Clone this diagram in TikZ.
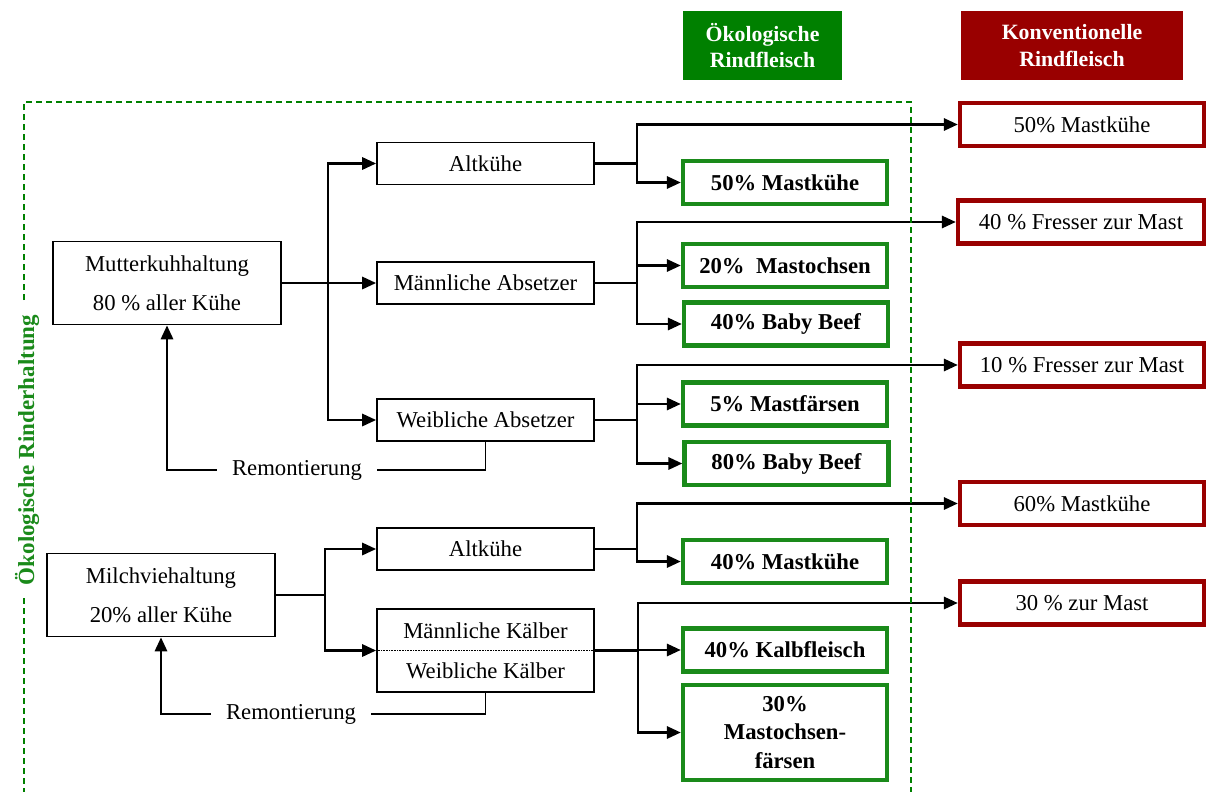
\documentclass[tikz,border=0pt]{standalone}
\usepackage{fontspec}
\setmainfont{Liberation Serif}
\usetikzlibrary{arrows.meta}
\definecolor{ecogreen}{HTML}{008000}
\definecolor{ecoframe}{HTML}{1A8A1A}
\definecolor{convred}{HTML}{990000}

\begin{document}
\begin{tikzpicture}[x=1pt,y=-1pt,
  every node/.style={font=\fontsize{22.7}{27}\selectfont, inner sep=0pt},
  stagebox/.style={draw=black, line width=1.6pt, minimum width=217pt, minimum height=42pt, align=center},
  herdbox/.style={draw=black, line width=1.6pt, minimum width=228pt, minimum height=83pt, align=center,
    font=\fontsize{22.7}{39}\selectfont},
  ecobox/.style={draw=ecoframe, line width=4.2pt, minimum width=204pt, minimum height=43pt, align=center,
    font=\fontsize{22.7}{28.5}\selectfont\bfseries},
  convbox/.style={draw=convred, line width=4.2pt, minimum width=244pt, minimum height=43pt, align=center},
  headbox/.style={minimum height=69pt, align=center, text=white,
    font=\fontsize{21.8}{26.5}\selectfont\bfseries},
  link/.style={line width=2.9pt},
  flow/.style={line width=2.9pt, -{Triangle[length=14pt,width=12pt]}},
  feed/.style={line width=1.4pt},
  remlabel/.style={inner xsep=15pt, fill=white},
  zone/.style={draw=ecogreen, line width=2.2pt, dash pattern=on 6pt off 4pt}
]
\useasboundingbox (0,0) rectangle (1207,792);

% column headers
\node[headbox, fill=ecogreen, minimum width=159pt] (hEco) at (762.5,45.5) {Ökologische\\Rindfleisch};
\node[headbox, fill=convred, minimum width=222pt] (hConv) at (1072,45.5) {Konventionelle\\Rindfleisch};

% herds
\node[herdbox] (mk) at (167,283) {Mutterkuhhaltung\\80 \% aller Kühe};
\node[herdbox] (mv) at (161,595) {Milchviehaltung\\20\% aller Kühe};

% animal groups
\node[stagebox] (alt1) at (485.5,163.5) {Altkühe};
\node[stagebox] (mabs) at (485.5,283) {Männliche Absetzer};
\node[stagebox] (wabs) at (485.5,420) {Weibliche Absetzer};
\node[stagebox] (alt2) at (485.5,549) {Altkühe};
\node[stagebox, minimum height=83pt] (kalb) at (485.5,650.5) {};
\node (kalbM) at (485.5,631) {Männliche Kälber};
\node (kalbW) at (485.5,671) {Weibliche Kälber};
\draw[line width=1.8pt, dash pattern=on 1pt off 0.6pt] (kalb.west) -- (kalb.east);

% organic beef
\node[ecobox] (g1) at (785,182.5) {50\% Mastkühe};
\node[ecobox] (g2) at (785,265.5) {20\%\ \ Mastochsen};
\node[ecobox] (g3) at (786,324) {40\% Baby Beef};
\node[ecobox] (g4) at (785,404) {5\% Mastfärsen};
\node[ecobox] (g5) at (786.5,463.5) {80\% Baby Beef};
\node[ecobox] (g6) at (785,561.5) {40\% Mastkühe};
\node[ecobox] (g7) at (785,650) {40\% Kalbfleisch};
\node[ecobox, minimum height=95pt] (g8) at (785,732.5) {30\%\\Mastochsen-\\färsen};

% conventional beef
\node[convbox] (r1) at (1082,124.5) {50\% Mastkühe};
\node[convbox, minimum width=246pt] (r2) at (1081,222) {40 \% Fresser zur Mast};
\node[convbox] (r3) at (1082,365) {10 \% Fresser zur Mast};
\node[convbox] (r4) at (1082,503.5) {60\% Mastkühe};
\node[convbox] (r5) at (1082,603) {30 \% zur Mast};

% branches from the herds
\draw[link] (mk.east) -- (328,283) coordinate (t1);
\draw[flow] (t1) |- (alt1.west);
\draw[flow] (t1) -- (mabs.west);
\draw[flow] (t1) |- (wabs.west);

\draw[link] (mv.east) -- (325,595) coordinate (t5);
\draw[flow] (t5) |- (alt2.west);
\draw[flow] (t5) |- (kalb.west);

% branches to the beef categories
\draw[link] (alt1.east) -- (637,163.5) coordinate (t2);
\draw[flow] (t2) |- (r1.west);
\draw[flow] (t2) |- (g1.west);

\draw[link] (mabs.east) -- (637,283) coordinate (t3);
\draw[flow] (t3) |- (r2.west);
\draw[flow] (t3) |- (g2.west);
\draw[flow] (t3) |- (g3.west);

\draw[link] (wabs.east) -- (637,420) coordinate (t4);
\draw[flow] (t4) |- (r3.west);
\draw[flow] (t4) |- (g4.west);
\draw[flow] (t4) |- (g5.west);

\draw[link] (alt2.east) -- (637,549) coordinate (t6);
\draw[flow] (t6) |- (r4.west);
\draw[flow] (t6) |- (g6.west);

\draw[link] (kalb.east) -- (638,650.5) coordinate (t7);
\draw[flow] (t7) |- (r5.west);
\draw[flow] (t7) |- (g7.west);
\draw[flow] (t7) |- (g8.west);

% replacement heifers back to the herds
\node[remlabel] (rem1) at (297,470) {Remontierung};
\draw[feed] (wabs.south) |- (rem1.east);
\draw[flow] (rem1.west) -| (mk.south);

\node[remlabel] (rem2) at (291,714) {Remontierung};
\draw[feed] (kalb.south) |- (rem2.east);
\draw[flow] (rem2.west) -| (mv.south);

% organic farming zone
\draw[zone] (24,300) -- (24,102) -- (911,102) -- (911,792);
\draw[zone] (24,598) -- (24,792);
\node[rotate=90, text=ecoframe, font=\fontsize{23}{27}\selectfont\bfseries] (zoneLabel) at (27,450) {Ökologische Rinderhaltung};
\end{tikzpicture}
\end{document}
